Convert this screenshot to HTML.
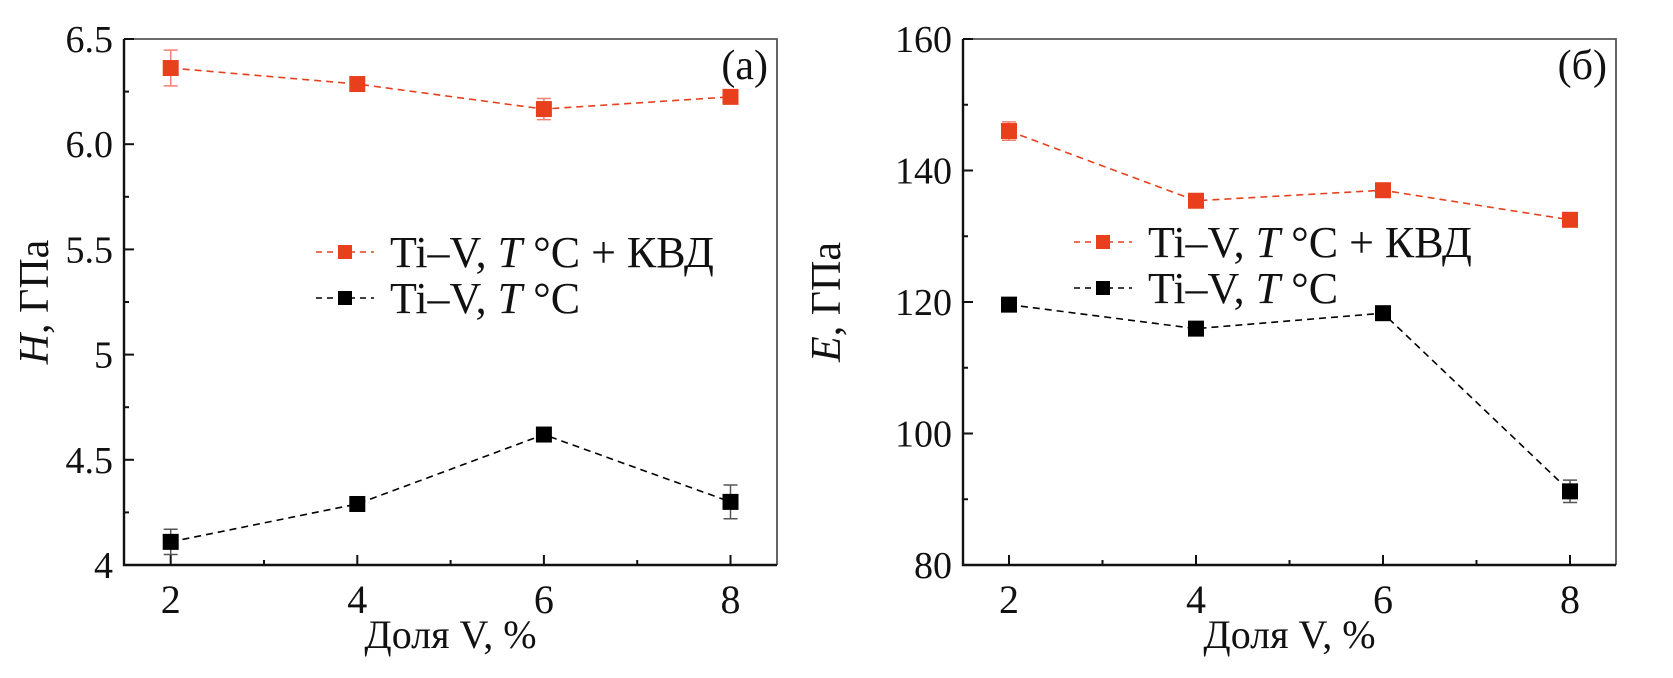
<!DOCTYPE html>
<html><head><meta charset="utf-8"><style>
html,body{margin:0;padding:0;background:#fff;}
svg, svg text{font-family:"Liberation Serif","Times New Roman",serif;}
</style></head><body>
<svg id="c" width="1673" height="673" viewBox="0 0 1673 673" font-family="Liberation Serif, serif"></svg>
<script>
const categories=[2,4,6,8];
const hRed=[6.362,6.286,6.167,6.225];
const hRedErr=[0.085,0.02,0.05,0.025];
const hBlack=[4.11,4.29,4.62,4.30];
const hBlackErr=[0.06,0.01,0.02,0.08];
const eRed=[146.0,135.4,137.0,132.5];
const eRedErr=[1.4,0.3,0.3,0.3];
const eBlack=[119.6,115.95,118.3,91.2];
const eBlackErr=[0.3,0.3,0.3,1.7];
const hTicks=[6.5,6.0,5.5,5,4.5,4];
const hTickLabels=["6.5","6.0","5.5","5","4.5","4"];
const eTicks=[160,140,120,100,80];
const eTickLabels=["160","140","120","100","80"];
const xTickLabels=["2","4","6","8"];

const NS="http://www.w3.org/2000/svg";
const svg=document.getElementById('c');
const FF='Liberation Serif, serif';
function mk(tag,attrs,parent){const e=document.createElementNS(NS,tag);for(const k in attrs)e.setAttribute(k,attrs[k]);if(tag==='text')e.setAttribute('font-family',FF);(parent||svg).appendChild(e);return e;}

function panel(o){
  const g=mk('g',{});
  
  
  const L=o.left,R=o.right,T=39,B=565;
  const X=v=>o.x2+(v-2)*o.dx;
  const Y=v=>B-(v-o.ymin)/(o.ymax-o.ymin)*(B-T);
  const fr=mk('path',{d:`M${L} ${T}H${R}V${B}`,stroke:'#555',fill:'none','stroke-width':1.8},g);
  
  
  const ax=mk('path',{d:`M${L} ${T}V${B}H${R}`,stroke:'#111',fill:'none','stroke-width':2.4},g);
  
  
  o.yt.forEach((v,i)=>{
    const y=Y(v);
    mk('line',{x1:L,x2:L+10,y1:y,y2:y,stroke:'#111','stroke-width':2},g);
    const t=mk('text',{x:o.ylabX,y:y+13,'text-anchor':'end','font-size':38,fill:'#111'},g);
    t.textContent=o.ytl[i];
    
    
    if(i<o.yt.length-1){const m=(v+o.yt[i+1])/2;mk('line',{x1:L,x2:L+5,y1:Y(m),y2:Y(m),stroke:'#111','stroke-width':2},g);}
  });
  categories.forEach((c,i)=>{
    const x=X(c);
    mk('line',{x1:x,x2:x,y1:B,y2:B-10,stroke:'#111','stroke-width':2},g);
    const t=mk('text',{x:x,y:613,'text-anchor':'middle','font-size':40,fill:'#111'},g);
    t.textContent=xTickLabels[i];
    
    
    if(i<categories.length-1){const m=X(c+1);mk('line',{x1:m,x2:m,y1:B,y2:B-5,stroke:'#111','stroke-width':2},g);}
  });
  const xt=mk('text',{x:(L+R)/2,y:648,'text-anchor':'middle','font-size':40,fill:'#111'},g);
  xt.textContent='Доля V, %';
  
  
  const yt=mk('text',{transform:`translate(${o.ytitleX},${(T+B)/2}) rotate(-90)`,'text-anchor':'middle','font-size':42,fill:'#111'},g);
  yt.innerHTML=`<tspan font-style="italic">${o.sym}</tspan>, ГПа`;
  
  
  const pl=mk('text',{x:R-9,y:79,'text-anchor':'end','font-size':42,fill:'#111'},g);
  pl.textContent=o.tag;
  
  
  o.series.forEach(s=>{
    const sg=mk('g',{},g);
    
    
    mk('polyline',{points:categories.map((c,i)=>X(c)+','+Y(s.v[i])).join(' '),fill:'none',stroke:s.c,'stroke-width':1.6,'stroke-dasharray':'7,5'},sg);
    categories.forEach((c,i)=>{
      const x=X(c),y1=Y(s.v[i]+s.e[i]),y2=Y(s.v[i]-s.e[i]);
      mk('path',{d:`M${x} ${y1}V${y2}M${x-7} ${y1}H${x+7}M${x-7} ${y2}H${x+7}`,stroke:s.ec,'stroke-width':1.5,fill:'none'},sg);
      const r=mk('rect',{x:x-8,y:Y(s.v[i])-8,width:16,height:16,fill:s.c},sg);
      
      
    });
  });
  o.series.forEach((s,i)=>{
    const y=o.legY[i];
    const lg=mk('g',{},g);
    
    
    mk('line',{x1:o.legX,x2:o.legX+58,y1:y,y2:y,stroke:s.c,'stroke-width':1.6,'stroke-dasharray':'6,5'},lg);
    mk('rect',{x:o.legX+22,y:y-7,width:14,height:14,fill:s.c},lg);
    const t=mk('text',{x:o.legX+74,y:y+15,'font-size':44,fill:'#111'},lg);
    t.innerHTML=s.lab;
  });
}
const red='#e8401c',black='#000';
const lab1='Ti–V, <tspan font-style="italic">T</tspan> °C + КВД',lab2='Ti–V, <tspan font-style="italic">T</tspan> °C';
panel({name:'panel-a-hardness',left:124,right:777,x2:170.7,dx:93.3,ymin:4,ymax:6.5,yt:hTicks,ytl:hTickLabels,ylabX:113,ytitleX:48,sym:'H',tag:'(a)',
  legX:316,legY:[252,298],
  series:[{name:'series-ti-v-t-kvd',v:hRed,e:hRedErr,c:red,ec:'#f08070',lab:lab1},{name:'series-ti-v-t',v:hBlack,e:hBlackErr,c:black,ec:'#555',lab:lab2}]});
panel({name:'panel-b-modulus',left:963,right:1616,x2:1009,dx:93.5,ymin:80,ymax:160,yt:eTicks,ytl:eTickLabels,ylabX:952,ytitleX:840,sym:'E',tag:'(б)',
  legX:1074,legY:[242,288],
  series:[{name:'series-ti-v-t-kvd',v:eRed,e:eRedErr,c:red,ec:'#f08070',lab:lab1},{name:'series-ti-v-t',v:eBlack,e:eBlackErr,c:black,ec:'#555',lab:lab2}]});
</script>
</body></html>
